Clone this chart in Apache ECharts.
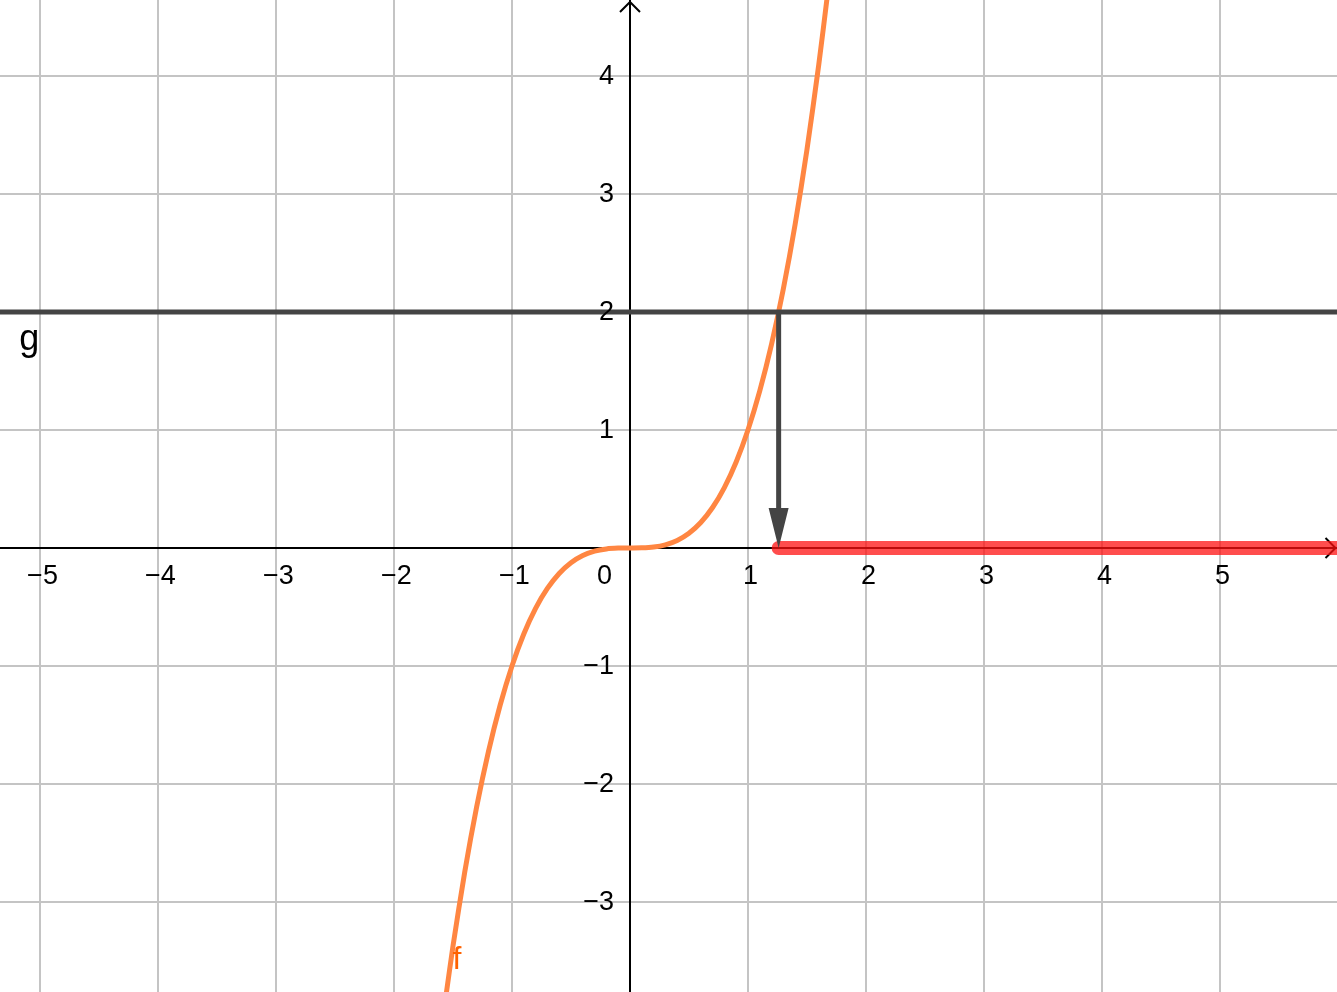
<!DOCTYPE html>
<html>
<head>
<meta charset="utf-8">
<script src="https://cdn.jsdelivr.net/npm/echarts@6/dist/echarts.min.js"></script>
<style>
html,body{margin:0;padding:0;background:#ffffff;overflow:hidden;}
#chart{width:1337px;height:992px;}
</style>
</head>
<body>
<div id="chart"></div>
<script>
// ---- data ----
const xRange = [-5.339, 5.992];
const yRange = [-3.763, 4.644];
const xTickLabels = [-5, -4, -3, -2, -1, 1, 2, 3, 4, 5];
const yTickLabels = [-3, -2, -1, 1, 2, 3, 4];
const xGridValues = [-5, -4, -3, -2, -1, 1, 2, 3, 4, 5];
const yGridValues = [-3, -2, -1, 1, 2, 3, 4];
const originText = '0';
// curve f
const fX = [-1.56, -1.5, -1.4, -1.3, -1.2, -1.1, -1.0, -0.9, -0.8, -0.7, -0.6, -0.5, -0.4, -0.3, -0.2, -0.1, 0,
            0.1, 0.2, 0.3, 0.4, 0.5, 0.6, 0.7, 0.8, 0.9, 1.0, 1.1, 1.2, 1.3, 1.4, 1.5, 1.6, 1.68];
const fY = [-3.80, -3.375, -2.744, -2.197, -1.728, -1.331, -1.0, -0.729, -0.512, -0.343, -0.216, -0.125, -0.064, -0.027, -0.008, -0.001, 0,
            0.001, 0.008, 0.027, 0.064, 0.125, 0.216, 0.343, 0.512, 0.729, 1.0, 1.331, 1.728, 2.197, 2.744, 3.375, 4.096, 4.74];
const gLevel = 2;          // line g : y = 2
const intersectX = 1.26;   // where f meets g
const gName = 'g';
const fName = 'f';
const gLabelAt = [-5.09, 1.765];
const fLabelAt = [-1.466, -3.49];

// ---- styles ----
const FONT = '"Liberation Sans", Arial, sans-serif';
const GRID_COLOR = '#c4c4c4';
const AXIS_COLOR = '#000000';
const G_COLOR = '#444444';
const F_COLOR = '#ff8642';
const RAY_COLOR = 'rgba(255,15,15,0.74)';
const TICK_FONT = 27;

function fmt(v) {
  return v < 0 ? '\u2212' + Math.abs(v) : String(v);
}

function vGrid(params, api) {
  const cs = params.coordSys;
  const x = Math.round(api.coord([api.value(0), 0])[0]);
  return {type: 'line', shape: {x1: x, y1: cs.y, x2: x, y2: cs.y + cs.height},
          style: {stroke: GRID_COLOR, lineWidth: 2}};
}
function hGrid(params, api) {
  const cs = params.coordSys;
  const y = Math.round(api.coord([0, api.value(1)])[1]);
  return {type: 'line', shape: {x1: cs.x, y1: y, x2: cs.x + cs.width, y2: y},
          style: {stroke: GRID_COLOR, lineWidth: 2}};
}
function axisArrows(params, api) {
  const cs = params.coordSys;
  const o = api.coord([0, 0]);
  const ox = Math.round(o[0]), oy = Math.round(o[1]);
  const top = cs.y + 2, right = cs.x + cs.width - 1.5, L = 10;
  const st = {stroke: AXIS_COLOR, lineWidth: 2, fill: null};
  return {type: 'group', children: [
    {type: 'polyline', shape: {points: [[ox - L, top + L], [ox, top], [ox + L, top + L]]}, style: st},
    {type: 'polyline', shape: {points: [[right - L, oy - L], [right, oy], [right - L, oy + L]]}, style: st}
  ]};
}
function dropArrow(params, api) {
  const p1 = api.coord([api.value(0), api.value(1)]);
  const p0 = api.coord([api.value(0), 0]);
  const headLen = 40, hw = 10;
  return {type: 'group', children: [
    {type: 'line', shape: {x1: p1[0], y1: p1[1], x2: p0[0], y2: p0[1] - headLen + 2},
     style: {stroke: G_COLOR, lineWidth: 5}},
    {type: 'polygon', shape: {points: [[p0[0] - hw, p0[1] - headLen], [p0[0] + hw, p0[1] - headLen], [p0[0], p0[1]]]},
     style: {fill: G_COLOR}}
  ]};
}

const labelBase = {show: true, fontFamily: FONT, color: '#000', opacity: 1, fontSize: TICK_FONT};

const chart = echarts.init(document.getElementById('chart'), null, {renderer: 'canvas'});
chart.setOption({
  animation: false,
  backgroundColor: '#ffffff',
  grid: {left: 0, right: 0, top: 0, bottom: 0, containLabel: false, outerBoundsMode: 'none'},
  xAxis: {
    type: 'value', min: xRange[0], max: xRange[1],
    splitLine: {show: false},
    axisTick: {show: false},
    axisLabel: {show: false},
    axisLine: {show: true, onZero: true, lineStyle: {color: AXIS_COLOR, width: 2}}
  },
  yAxis: {
    type: 'value', min: yRange[0], max: yRange[1],
    splitLine: {show: false},
    axisTick: {show: false},
    axisLabel: {show: false},
    axisLine: {show: true, onZero: true, lineStyle: {color: AXIS_COLOR, width: 2}}
  },
  series: [
    {type: 'custom', name: 'xgrid', z: -1, silent: true, renderItem: vGrid,
     data: xGridValues.map(v => [v, 0])},
    {type: 'custom', name: 'ygrid', z: -1, silent: true, renderItem: hGrid,
     data: yGridValues.map(v => [0, v])},
    {type: 'custom', name: 'arrows', z: 1, silent: true, renderItem: axisArrows, data: [[0, 0]]},
    {type: 'line', name: 'f', z: 3, data: fX.map((x, i) => [x, fY[i]]),
     showSymbol: false, symbol: 'none', smooth: 0.25, clip: true,
     lineStyle: {color: F_COLOR, width: 5, cap: 'round', join: 'round'}},
    {type: 'line', name: 'g', z: 4, data: [[xRange[0], gLevel], [xRange[1], gLevel]],
     symbol: 'none', lineStyle: {color: G_COLOR, width: 5}},
    {type: 'line', name: 'ray', z: 5, data: [[intersectX, 0], [xRange[1], 0]],
     symbol: 'none', lineStyle: {color: RAY_COLOR, width: 14, cap: 'round'}},
    {type: 'custom', name: 'drop', z: 6, renderItem: dropArrow, data: [[intersectX, gLevel]]},
    {type: 'scatter', name: 'xticks', z: 7, symbolSize: 0, silent: true,
     itemStyle: {opacity: 1},
     data: xTickLabels.map(v => [v, 0]),
     label: Object.assign({}, labelBase, {position: 'bottom', distance: 15, offset: [2.5, 0],
       formatter: p => fmt(p.value[0])})},
    {type: 'scatter', name: 'yticks', z: 7, symbolSize: 0, silent: true,
     itemStyle: {opacity: 1},
     data: yTickLabels.map(v => [0, v]),
     label: Object.assign({}, labelBase, {position: 'left', distance: 16, offset: [0, 1],
       formatter: p => fmt(p.value[1])})},
    {type: 'scatter', name: 'origin', z: 7, symbolSize: 0, silent: true,
     itemStyle: {opacity: 1},
     data: [[0, 0]],
     label: Object.assign({}, labelBase, {formatter: originText, position: [-33, 15],
       align: 'left', verticalAlign: 'top'})},
    {type: 'scatter', name: 'names', z: 7, symbolSize: 0, silent: true,
     itemStyle: {opacity: 1},
     data: [
       {value: gLabelAt, label: {formatter: gName, color: '#000', fontSize: 36}},
       {value: fLabelAt, label: {formatter: fName, color: '#ff6200', fontSize: 32}}
     ],
     label: {show: true, position: 'inside', fontFamily: FONT, opacity: 1}}
  ]
});
</script>
</body>
</html>
